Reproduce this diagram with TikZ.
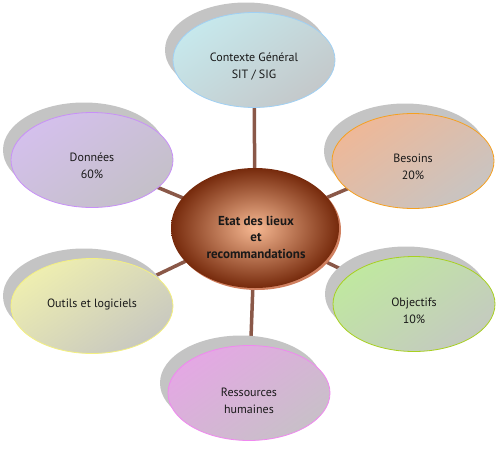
\documentclass[tikz,border=0pt]{standalone}
\usepackage{fontspec}
\setmainfont{PT Sans}
\usetikzlibrary{shapes.geometric,shadows,backgrounds}
\definecolor{shgray}{HTML}{C4C4C4}
\definecolor{conn}{HTML}{8A5848}
\definecolor{ctxA}{HTML}{C6E8EC}\definecolor{ctxB}{HTML}{C4C8CA}\definecolor{ctxL}{HTML}{A0D0F4}
\definecolor{besA}{HTML}{EEB898}\definecolor{besB}{HTML}{C8C4C2}\definecolor{besL}{HTML}{F5A020}
\definecolor{objA}{HTML}{C0E8A0}\definecolor{objB}{HTML}{C4CAC0}\definecolor{objL}{HTML}{A8D020}
\definecolor{resA}{HTML}{E4A8E4}\definecolor{resB}{HTML}{C8C0C8}\definecolor{resL}{HTML}{F088F0}
\definecolor{outA}{HTML}{EEEEB0}\definecolor{outB}{HTML}{C8C8C0}\definecolor{outL}{HTML}{F4F080}
\definecolor{donA}{HTML}{D4C0EC}\definecolor{donB}{HTML}{C4C0C8}\definecolor{donL}{HTML}{C890F8}
\definecolor{brIn}{HTML}{F6B892}\definecolor{brOut}{HTML}{762A0C}\definecolor{brRim}{HTML}{D08060}
\begin{document}
\begin{tikzpicture}[x=1pt,y=-1pt,
  sat/.style 2 args={ellipse, minimum width=162pt, minimum height=95pt, inner sep=0pt,
    general shadow={fill=shgray, shadow xshift=-8pt, shadow yshift=10pt},
    shading=axis, top color=#1A, bottom color=#1B, shading angle=35, draw=#1L, line width=0.8pt},
  txt/.style={align=center, font=\fontsize{12}{17}\selectfont, text=black!90, inner sep=0pt},
  ctr/.style={ellipse, minimum width=168pt, minimum height=120pt, inner sep=0pt,
    general shadow={fill=brRim, shadow xshift=2pt, shadow yshift=-2pt},
    inner color=brIn, outer color=brOut},
  link/.style={draw=conn, line width=3.5pt}
]
\useasboundingbox (0,0) rectangle (500,450);
\node[ctr] (c) at (255,228) {};
\node[align=center, font=\bfseries\fontsize{13}{16.5}\selectfont, text=black!90, inner sep=0pt] (ct) at (256,237) {Etat des lieux\\et\\recommandations};

\node[sat={ctx}{}] (s1) at (254,60) {};
\node[sat={bes}{}] (s2) at (413,161) {};
\node[sat={obj}{}] (s3) at (414,304) {};
\node[sat={res}{}] (s4) at (249,393) {};
\node[sat={out}{}] (s5) at (92,306) {};
\node[sat={don}{}] (s6) at (92,160) {};

\node[txt] (t1) at ([yshift=-7pt]s1.center) {Contexte Général\\SIT / SIG};
\node[txt] (t2) at ([yshift=-6pt]s2.center) {Besoins\\20\%};
\node[txt] (t3) at ([yshift=-7pt]s3.center) {Objectifs\\10\%};
\node[txt] (t4) at ([yshift=-8pt]s4.center) {Ressources\\humaines};
\node[txt] (t5) at ([yshift=2pt]s5.center) {Outils et logiciels};
\node[txt] (t6) at ([yshift=-6pt]s6.center) {Données\\60\%};

\begin{scope}[on background layer]
\foreach \s in {s1,s2,s3,s4,s5,s6} \draw[link] (c.center) -- (\s.center);
\end{scope}
\end{tikzpicture}
\end{document}
